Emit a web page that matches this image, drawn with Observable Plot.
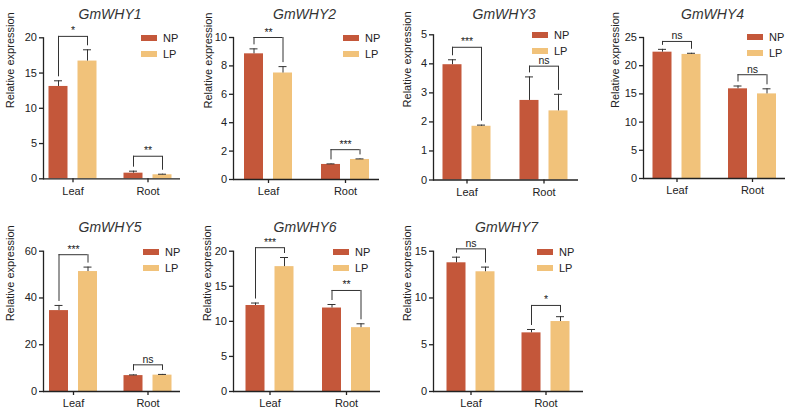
<!DOCTYPE html>
<html><head><meta charset="utf-8">
<script src="https://cdn.jsdelivr.net/npm/d3@7"></script>
<script src="https://cdn.jsdelivr.net/npm/@observablehq/plot@0.6"></script>
<style>
body{margin:0;background:#fff;font-family:"Liberation Sans",Arial,sans-serif;}
#page{position:relative;width:789px;height:413px;overflow:hidden;background:#fff;}
.panel{position:absolute;}
.panel svg{overflow:visible;}
.leg{position:absolute;font-size:11px;color:#222;line-height:12px;white-space:nowrap;}
.leg .sw{position:absolute;left:0;top:3px;width:16px;height:6px;}
.leg .tx{position:absolute;left:22px;top:0;}
</style></head><body><div id="page"></div>
<script>
// ---- data ----
const genes = ["GmWHY1","GmWHY2","GmWHY3","GmWHY4","GmWHY5","GmWHY6","GmWHY7"];
const tissues = ["Leaf","Root"];
const groups = ["NP","LP"];
const npLeaf   = [13.1, 8.85, 3.97, 22.4, 34.6, 12.26, 13.76];
const npLeafSd = [0.8, 0.35, 0.17, 0.5, 2.2, 0.35, 0.6];
const lpLeaf   = [16.7, 7.5, 1.85, 22.0, 51.3, 17.8, 12.8];
const lpLeafSd = [1.6, 0.45, 0.04, 0.2, 1.9, 1.3, 0.5];
const npRoot   = [0.8, 1.06, 2.74, 15.9, 6.8, 11.9, 6.27];
const npRootSd = [0.28, 0.04, 0.81, 0.5, 0.3, 0.5, 0.36];
const lpRoot   = [0.57, 1.41, 2.38, 15.0, 7.0, 9.1, 7.48];
const lpRootSd = [0.08, 0.04, 0.57, 0.9, 0.3, 0.55, 0.52];
const sigLeaf  = ["*","**","***","ns","***","***","ns"];
const sigRoot  = ["**","***","ns","ns","ns","**","*"];
const bracketLeaf = [20.2, 10.0, 4.57, 24.3, 58.5, 20.5, 15.25];
const bracketRoot = [3.2, 2.1, 3.92, 18.4, 11.4, 14.4, 9.2];
const yMax  = [20, 10, 5, 25, 60, 20, 15];
const yStep = [5, 2, 1, 5, 20, 5, 5];
const yLabel = "Relative expression";

const colors = {NP: "#C4573A", LP: "#F1C27A"};
const ink = "#222";

// ---- layout (pixels) ----
const layout = [
  {left:0,   top:0,   w:197, h:205, mt:37.3, mb:26.7, ml:43, mr:17, c1:72.5, c2:147.5, labelDx:-33, titleY:14.5, legX:141, legY:38},
  {left:195, top:0,   w:197, h:205, mt:37,   mb:26,   ml:38, mr:13, c1:73,   c2:150,   labelDx:-25, titleY:14.5, legX:343, legY:38},
  {left:390, top:0,   w:197, h:205, mt:34.3, mb:25.5, ml:43, mr:9,  c1:76.5, c2:153.5, labelDx:-26, titleY:14.5, legX:532, legY:35},
  {left:585, top:0,   w:204, h:205, mt:37,   mb:27,   ml:58, mr:4,  c1:91.5, c2:167,   labelDx:-28, titleY:14.5, legX:747, legY:37},
  {left:0,   top:205, w:197, h:208, mt:45.7, mb:22,   ml:43, mr:17, c1:73,   c2:147.5, labelDx:-33, titleY:22,   legX:143, legY:252},
  {left:195, top:205, w:197, h:208, mt:45.7, mb:22,   ml:38, mr:12, c1:74.5, c2:151,   labelDx:-26, titleY:22,   legX:333, legY:252},
  {left:390, top:205, w:197, h:208, mt:45.7, mb:22,   ml:43, mr:4,  c1:80.5, c2:155.5, labelDx:-26, titleY:22,   legX:537, legY:252},
];
const band = 48, half = 14.5, cap = 4;

const page = document.getElementById("page");

genes.forEach((gene, i) => {
  const L = layout[i];
  const rows = [
    {tissue: tissues[0], np: npLeaf[i], npSd: npLeafSd[i], lp: lpLeaf[i], lpSd: lpLeafSd[i], sig: sigLeaf[i], br: bracketLeaf[i]},
    {tissue: tissues[1], np: npRoot[i], npSd: npRootSd[i], lp: lpRoot[i], lpSd: lpRootSd[i], sig: sigRoot[i], br: bracketRoot[i]}
  ];
  const s = L.c2 - L.c1;
  const pi = 1 - band / s;
  const npTop = d => d.np + d.npSd;
  const lpTop = d => d.lp + d.lpSd;
  const chart = Plot.plot({
    width: L.w, height: L.h,
    marginTop: L.mt, marginBottom: L.mb, marginLeft: L.ml, marginRight: L.mr,
    style: {fontFamily: "'Liberation Sans', Arial, sans-serif", color: ink, background: "transparent", fontSize: "11px"},
    x: {domain: tissues, range: [L.c1 - s / 2, L.c2 + s / 2], paddingInner: pi, paddingOuter: pi / 2, round: false},
    y: {domain: [0, yMax[i]]},
    marks: [
      Plot.barY(rows, {x: "tissue", y: "np", fill: colors.NP, insetRight: band - 19}),
      Plot.barY(rows, {x: "tissue", y: "lp", fill: colors.LP, insetLeft: band - 19}),
      Plot.ruleX(rows, {x: "tissue", y1: "np", y2: npTop, dx: -half, stroke: "#333", strokeWidth: 1}),
      Plot.ruleX(rows, {x: "tissue", y1: "lp", y2: lpTop, dx: half, stroke: "#333", strokeWidth: 1}),
      Plot.tickY(rows, {x: "tissue", y: npTop, insetLeft: 9.5 - cap, insetRight: band - 9.5 - cap, stroke: "#333", strokeWidth: 1}),
      Plot.tickY(rows, {x: "tissue", y: lpTop, insetLeft: band - 9.5 - cap, insetRight: 9.5 - cap, stroke: "#333", strokeWidth: 1}),
      Plot.tickY(rows, {x: "tissue", y: "br", insetLeft: 9.5, insetRight: 9.5, stroke: "#333", strokeWidth: 1}),
      Plot.ruleX(rows, {x: "tissue", y1: "br", y2: npTop, dx: -half, insetBottom: 4, stroke: "#333", strokeWidth: 1}),
      Plot.ruleX(rows, {x: "tissue", y1: "br", y2: lpTop, dx: half, insetBottom: 4, stroke: "#333", strokeWidth: 1}),
      Plot.text(rows, {x: "tissue", y: "br", text: "sig", dy: -2, lineAnchor: "bottom", fontSize: 10.5, fill: ink}),
      Plot.ruleY([0], {stroke: ink, strokeWidth: 1.3}),
      Plot.frame({anchor: "left", stroke: ink, strokeWidth: 1.3}),
      Plot.axisY({ticks: d3.range(0, yMax[i] + yStep[i] / 2, yStep[i]), tickFormat: d3.format("d"), tickSize: 4, tickPadding: 2.5, fontSize: 11, label: null, strokeWidth: 1.3}),
      Plot.axisX({tickSize: 4, tickPadding: 4, fontSize: 11, label: null, strokeWidth: 1.3}),
      Plot.text([yLabel], {frameAnchor: "left", rotate: -90, dx: L.labelDx, fontSize: 11, fill: ink}),
      Plot.text([gene], {frameAnchor: "top", dy: L.titleY - L.mt, dx: -2, fontSize: 14, fontStyle: "italic", fontWeight: "normal", fill: "#333", lineAnchor: "middle"})
    ]
  });
  const div = document.createElement("div");
  div.className = "panel";
  div.style.left = L.left + "px";
  div.style.top = L.top + "px";
  div.appendChild(chart);
  page.appendChild(div);

  groups.forEach((g, k) => {
    const leg = document.createElement("div");
    leg.className = "leg";
    leg.style.left = L.legX + "px";
    leg.style.top = (L.legY + k * 15.5 - 6) + "px";
    leg.innerHTML = `<span class="sw" style="background:${colors[g]}"></span><span class="tx">${g}</span>`;
    page.appendChild(leg);
  });
});
</script>
</body></html>
